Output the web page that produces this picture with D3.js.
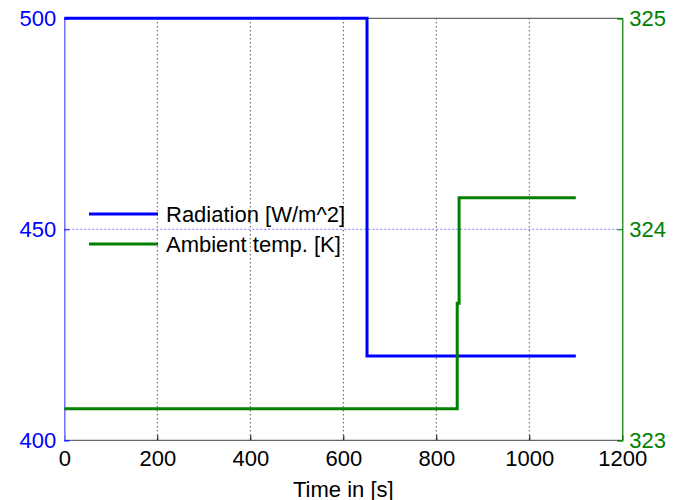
<!DOCTYPE html>
<html><head><meta charset="utf-8">
<script src="https://cdn.jsdelivr.net/npm/d3@7"></script>
<style>
body{margin:0;background:#fff;}
text{font-family:"Liberation Sans",Arial,sans-serif;}
</style></head>
<body><svg id="c" width="677" height="500"></svg>
<script>
// Data
const radTime = [0, 651, 1100];
const radValue = [500, 420, 420];
const tempTime = [0, 845, 849, 1100];
const tempValue = [323.15, 323.65, 324.15, 324.15];
const xTicks = [0, 200, 400, 600, 800, 1000, 1200];
const yLeftTicks = [400, 450, 500];
const yRightTicks = [323, 324, 325];
const seriesNames = ["Radiation [W/m^2]", "Ambient temp. [K]"];
const colors = ["#0000ff", "#008000"];

const svg = d3.select("#c");
const L = 64.3, R = 622.3, T = 18.3, B = 440.3;
const x = d3.scaleLinear().domain([0, 1200]).range([L, R]);
const yL = d3.scaleLinear().domain([400, 500]).range([B, T]);
const yR = d3.scaleLinear().domain([323, 325]).range([B, T]);

// vertical grid
svg.append("g").selectAll("line").data(xTicks.slice(1, -1)).join("line")
  .attr("x1", d => x(d)).attr("x2", d => x(d)).attr("y1", T).attr("y2", B)
  .attr("stroke", "#000").attr("stroke-width", 1).attr("stroke-dasharray", "1,3");
// horizontal grid (left axis)
svg.append("g").selectAll("line").data(yLeftTicks.slice(1, -1)).join("line")
  .attr("x1", L).attr("x2", R).attr("y1", d => yL(d)).attr("y2", d => yL(d))
  .attr("stroke", "#7777ff").attr("stroke-width", 1).attr("stroke-dasharray", "2,2");

// box top and bottom
svg.append("line").attr("x1", L).attr("x2", R).attr("y1", T).attr("y2", T).attr("stroke", "#444");
svg.append("line").attr("x1", L).attr("x2", R).attr("y1", B).attr("y2", B).attr("stroke", "#444");

// bottom axis
const xa = svg.append("g").attr("transform", `translate(0,${B})`)
  .call(d3.axisBottom(x).tickValues(xTicks).tickSize(-5).tickPadding(10).tickFormat(d3.format("d")));
xa.select(".domain").remove();
xa.selectAll("line").attr("stroke", "#000");
xa.selectAll("text").attr("font-size", 22).attr("fill", "#000").attr("font-family", "Liberation Sans, Arial");

// left axis
const yla = svg.append("g").attr("transform", `translate(${L},0)`)
  .call(d3.axisLeft(yL).tickValues(yLeftTicks).tickSize(-5).tickPadding(8).tickFormat(d3.format("d")));
yla.select(".domain").attr("stroke", "#6f6fff").attr("stroke-width", 1.5);
yla.selectAll("line").attr("stroke", "#0000ff");
yla.selectAll("text").attr("font-size", 22).attr("fill", "#0000ff").attr("font-family", "Liberation Sans, Arial");

// right axis
const yra = svg.append("g").attr("transform", `translate(${R},0)`)
  .call(d3.axisRight(yR).tickValues(yRightTicks).tickSize(-5).tickPadding(7).tickFormat(d3.format("d")));
yra.select(".domain").attr("stroke", "#008000").attr("stroke-width", 1.2);
yra.selectAll("line").attr("stroke", "#008000");
yra.selectAll("text").attr("font-size", 22).attr("fill", "#008000").attr("font-family", "Liberation Sans, Arial");

// x label
svg.append("text").attr("x", (L + R) / 2).attr("y", 497).attr("text-anchor", "middle")
  .attr("font-size", 22).attr("fill", "#000").text("Time in [s]");

// lines
const radLine = d3.line().x((d, i) => x(radTime[i])).y(d => yL(d)).curve(d3.curveStepAfter);
const tempLine = d3.line().x((d, i) => x(tempTime[i])).y(d => yR(d)).curve(d3.curveStepAfter);
svg.append("path").attr("d", radLine(radValue)).attr("fill", "none")
  .attr("stroke", colors[0]).attr("stroke-width", 3);
svg.append("path").attr("d", tempLine(tempValue)).attr("fill", "none")
  .attr("stroke", colors[1]).attr("stroke-width", 3);

// legend
const lg = svg.append("g");
seriesNames.forEach((name, i) => {
  const yy = 214 + i * 30;
  lg.append("line").attr("x1", 89).attr("x2", 158).attr("y1", yy).attr("y2", yy)
    .attr("stroke", colors[i]).attr("stroke-width", 3);
  lg.append("text").attr("x", 166).attr("y", yy + 8).attr("font-size", 22)
    .attr("fill", "#000").text(name);
});
</script></body></html>
